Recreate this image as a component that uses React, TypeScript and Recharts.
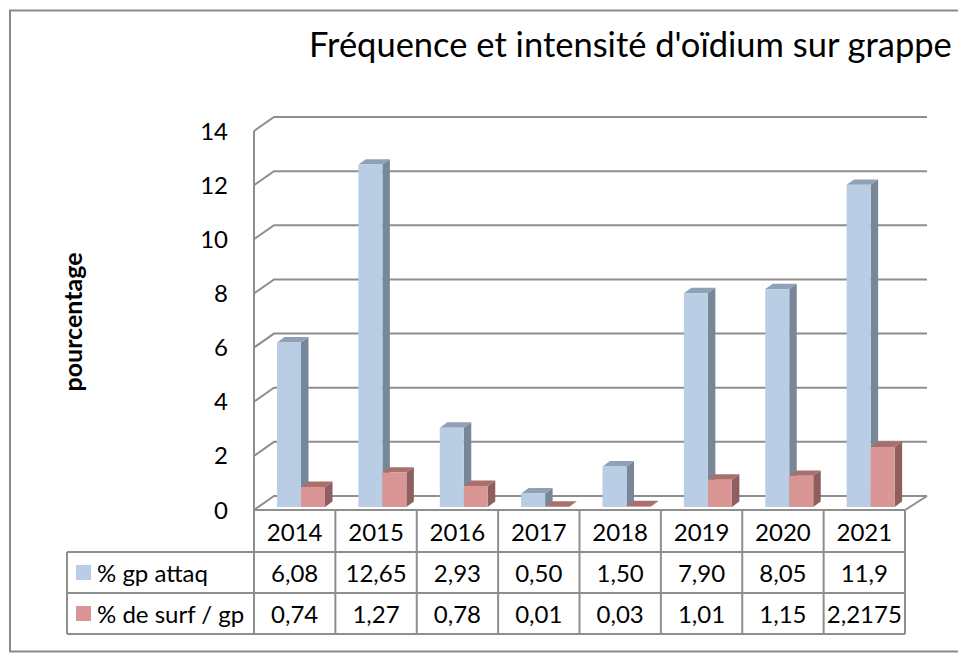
import { Bar, BarChart, CartesianGrid, XAxis, YAxis } from "recharts";

const years = ["2014", "2015", "2016", "2017", "2018", "2019", "2020", "2021"];
const gpAttaq = [6.08, 12.65, 2.93, 0.5, 1.5, 7.9, 8.05, 11.9];
const surfGp = [0.74, 1.27, 0.78, 0.01, 0.03, 1.01, 1.15, 2.2175];
const gpAttaqLabels = ["6,08", "12,65", "2,93", "0,50", "1,50", "7,90", "8,05", "11,9"];
const surfGpLabels = ["0,74", "1,27", "0,78", "0,01", "0,03", "1,01", "1,15", "2,2175"];
const yTicks = [0, 2, 4, 6, 8, 10, 12, 14];
const seriesNames = ["% gp attaq", "% de surf / gp"];

const data = years.map((year, i) => ({ year, gp: gpAttaq[i], surf: surfGp[i] }));

const W = 958;
const H = 654;
const margin = { top: 131, right: 53, bottom: 0, left: 0 };
const yAxisW = 254;
const xAxisH = 144;
const plotW = W - yAxisW - margin.right;
const band = plotW / years.length;

const FONT = "Lato, 'Open Sans', sans-serif";
const GRID = "#8e8e8e";
const DEPTH_X = 20;
const DEPTH_Y = 14;

// 3d column: front face, side face, top face
const make3dBar = (front: string, side: string, top: string) => (props: any) => {
  const { x, y, width, height } = props;
  const fx = x + 6;
  const fy = y - 3;
  const h = Math.max(height, 0);
  const dx = 7.5;
  const dy = 5.4;
  return (
    <g>
      <polygon
        points={`${fx + width},${fy} ${fx + width + dx},${fy - dy} ${fx + width + dx},${fy + h - dy} ${fx + width},${fy + h}`}
        fill={side}
      />
      <polygon
        points={`${fx},${fy} ${fx + dx},${fy - dy} ${fx + width + dx},${fy - dy} ${fx + width},${fy}`}
        fill={top}
      />
      <rect x={fx} y={fy} width={width} height={h} fill={front} />
    </g>
  );
};

const gridLine = (props: any) => {
  const { x1, y1, x2, y, height, index } = props;
  const isFloor = Math.abs(y1 - (y + height)) < 1;
  return (
    <g key={`grid-${index}`}>
      <path
        d={`M${x1},${y1} L${x1 + DEPTH_X},${y1 - DEPTH_Y} L${x2 + DEPTH_X + 2},${y1 - DEPTH_Y}`}
        stroke={GRID}
        strokeWidth={2}
        fill="none"
      />
      {isFloor && (
        <path
          d={`M${x2},${y1} L${x2 + DEPTH_X + 2},${y1 - DEPTH_Y}`}
          stroke={GRID}
          strokeWidth={2}
          fill="none"
        />
      )}
    </g>
  );
};

// each x tick draws one column of the data table
const TableColumn = (props: any) => {
  const { x, y, payload, index } = props;
  const i = payload?.index ?? index;
  const left = x - band / 2;
  const right = x + band / 2;
  const txt = { fontFamily: FONT, fontSize: 24, fill: "#000", textAnchor: "middle" as const, dominantBaseline: "central" as const };
  return (
    <g>
      <line x1={left} y1={y} x2={left} y2={y + 124} stroke={GRID} strokeWidth={2} />
      {i === years.length - 1 && <line x1={right} y1={y} x2={right} y2={y + 124} stroke={GRID} strokeWidth={2} />}
      <text x={x} y={y + 21} {...txt}>{payload.value}</text>
      <text x={x} y={y + 62} {...txt}>{gpAttaqLabels[i]}</text>
      <text x={x} y={y + 103} {...txt}>{surfGpLabels[i]}</text>
    </g>
  );
};

export default function App() {
  const tableLeft = 67;
  const tableRight = yAxisW + plotW;
  const rowY = [552, 593, 634];
  return (
    <div style={{ position: "absolute", left: 0, top: 0, width: W, height: H, background: "#fff" }}>
      <BarChart width={W} height={H} data={data} margin={margin} barGap={0} barSize={24}>
        <CartesianGrid vertical={false} horizontal={gridLine} />
        <XAxis
          dataKey="year"
          height={xAxisH}
          interval={0}
          tickLine={false}
          tickSize={0}
          tickMargin={0}
          axisLine={{ stroke: GRID, strokeWidth: 2 }}
          tick={<TableColumn />}
        />
        <YAxis
          width={yAxisW}
          domain={[0, 14]}
          ticks={yTicks}
          interval={0}
          tickLine={false}
          tickSize={0}
          tickMargin={26}
          axisLine={{ stroke: GRID, strokeWidth: 2 }}
          tick={{ fontFamily: FONT, fontSize: 24, fill: "#000" }}
        />
        <Bar dataKey="gp" name={seriesNames[0]} fill="#B9CDE5" isAnimationActive={false} shape={make3dBar("#B9CDE5", "#778797", "#8FA1B6")} />
        <Bar dataKey="surf" name={seriesNames[1]} fill="#D99694" isAnimationActive={false} shape={make3dBar("#D99694", "#8E5F5E", "#A86F6D")} />
      </BarChart>
      <svg width={W} height={H} style={{ position: "absolute", left: 0, top: 0, pointerEvents: "none" }}>
        <rect x={10} y={10.5} width={960} height={641} fill="none" stroke="#8a8a8a" strokeWidth={2} />
        <text x={309} y={57} fontFamily={FONT} fontSize={34.5} fill="#000">
          Fréquence et intensité d'oïdium sur grappe
        </text>
        <text
          transform="translate(72,322) rotate(-90)"
          textAnchor="middle"
          dominantBaseline="central"
          fontFamily={FONT}
          fontWeight="bold"
          fontSize={25}
          fill="#000"
        >
          pourcentage
        </text>
        {rowY.map((ry) => (
          <line key={ry} x1={tableLeft} y1={ry} x2={tableRight} y2={ry} stroke={GRID} strokeWidth={2} />
        ))}
        <line x1={tableLeft} y1={rowY[0]} x2={tableLeft} y2={rowY[2]} stroke={GRID} strokeWidth={2} />
        <rect x={76} y={565} width={15} height={15} fill="#B9CDE5" />
        <rect x={76} y={606} width={15} height={15} fill="#D99694" />
        <text x={97} y={572} fontFamily={FONT} fontSize={24} dominantBaseline="central" fill="#000">{seriesNames[0]}</text>
        <text x={97} y={613} fontFamily={FONT} fontSize={24} dominantBaseline="central" fill="#000">{seriesNames[1]}</text>
      </svg>
    </div>
  );
}
